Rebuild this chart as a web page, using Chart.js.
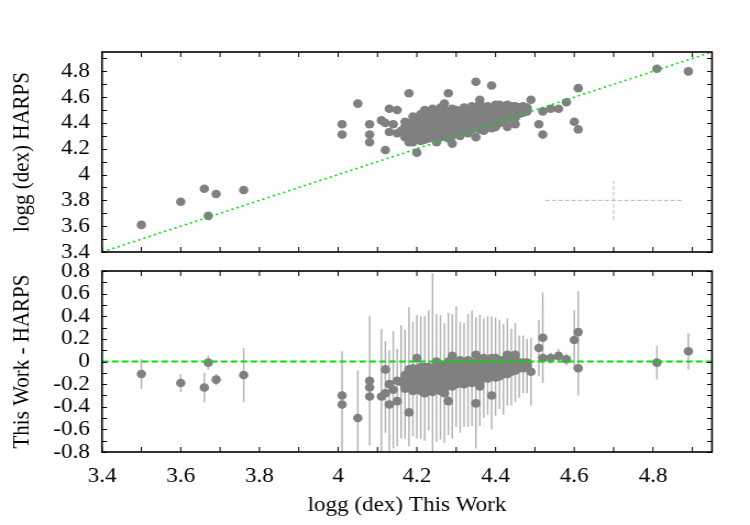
<!DOCTYPE html>
<html>
<head>
<meta charset="utf-8">
<script src="https://cdn.jsdelivr.net/npm/chart.js@4.4.0/dist/chart.umd.min.js"></script>
<style>
  body { margin: 0; background: #fff; }
  #wrap { position: relative; width: 750px; height: 525px; overflow: hidden; }
  /* the original figure is stretched sideways, so draw narrower and widen */
  canvas { position: absolute; left: 0; transform-origin: 0 0; transform: scaleX(1.0997); }
  #topChart { top: 0; }
  #botChart { top: 200px; }
</style>
</head>
<body>
<div id="wrap">
  <canvas id="topChart" width="682" height="300"></canvas>
  <canvas id="botChart" width="682" height="325"></canvas>
</div>
<script>
// isolated stars: logg from this work, logg from HARPS, error on the difference
const sparseThis  = [3.50, 3.60, 3.66, 3.67, 3.69, 3.76, 4.01, 4.01, 4.05, 4.08, 4.08, 4.08,
                     4.11, 4.12, 4.12, 4.13, 4.13, 4.14, 4.15, 4.15, 4.16, 4.17, 4.18, 4.18,
                     4.18, 4.19, 4.20, 4.21, 4.22, 4.25, 4.28, 4.29, 4.35, 4.39, 4.36, 4.49,
                     4.61, 4.58, 4.56, 4.54, 4.52, 4.51, 4.52, 4.60, 4.61, 4.81, 4.89];
const sparseHarps = [3.61, 3.79, 3.89, 3.68, 3.85, 3.88, 4.39, 4.31, 4.55, 4.39, 4.31, 4.25,
                     4.42, 4.40, 4.19, 4.51, 4.33, 4.39, 4.50, 4.32, 4.34, 4.41, 4.63, 4.40,
                     4.25, 4.25, 4.17, 4.26, 4.27, 4.25, 4.63, 4.24, 4.72, 4.69, 4.58, 4.58,
                     4.67, 4.56, 4.51, 4.51, 4.49, 4.39, 4.31, 4.41, 4.35, 4.82, 4.80];
const sparseErr   = [0.13, 0.08, 0.13, 0.06, 0.05, 0.24, 0.47, 0.39, 0.42, 0.30, 0.25, 0.57,
                     0.60, 0.35, 0.25, 0.45, 0.30, 0.52, 0.40, 0.28, 0.50, 0.35, 0.30, 0.40,
                     0.55, 0.33, 0.38, 0.45, 0.30, 0.42, 0.28, 0.36, 0.40, 0.30, 0.35, 0.30,
                     0.24, 0.05, 0.06, 0.05, 0.12, 0.25, 0.40, 0.26, 0.36, 0.15, 0.16];

// main clump, one row per logg (this work) value
const clusterX = [4.17, 4.18, 4.19, 4.20, 4.21, 4.22, 4.23, 4.24, 4.25, 4.26, 4.27, 4.28,
                  4.29, 4.30, 4.31, 4.32, 4.33, 4.34, 4.35, 4.36, 4.37, 4.38, 4.39, 4.40,
                  4.41, 4.42, 4.43, 4.44, 4.45, 4.46, 4.47, 4.48];
const clusterHarps = [
  [4.33, 4.29, 4.37],
  [4.33, 4.36, 4.28],
  [4.41, 4.30, 4.34, 4.38, 4.45],
  [4.36, 4.27, 4.32, 4.40, 4.44],
  [4.34, 4.29, 4.38, 4.47, 4.42],
  [4.33, 4.37, 4.45, 4.50, 4.30, 4.41],
  [4.35, 4.40, 4.44, 4.28, 4.49, 4.31],
  [4.36, 4.32, 4.42, 4.46, 4.51, 4.39],
  [4.30, 4.38, 4.44, 4.48, 4.34, 4.41],
  [4.33, 4.37, 4.40, 4.45, 4.52, 4.29, 4.43],
  [4.35, 4.39, 4.42, 4.47, 4.55, 4.31, 4.50],
  [4.36, 4.40, 4.33, 4.44, 4.49, 4.38, 4.28],
  [4.37, 4.41, 4.45, 4.34, 4.51, 4.30],
  [4.36, 4.39, 4.43, 4.47, 4.33, 4.50, 4.41],
  [4.38, 4.42, 4.35, 4.46, 4.40, 4.30],
  [4.40, 4.44, 4.37, 4.48, 4.52, 4.34],
  [4.39, 4.43, 4.36, 4.46, 4.41, 4.32, 4.50],
  [4.41, 4.45, 4.38, 4.48, 4.35, 4.43, 4.53],
  [4.40, 4.44, 4.37, 4.47, 4.29, 4.50, 4.42],
  [4.42, 4.46, 4.39, 4.49, 4.35, 4.55, 4.44],
  [4.41, 4.45, 4.38, 4.48, 4.51, 4.43, 4.34],
  [4.43, 4.47, 4.40, 4.50, 4.37, 4.53, 4.45],
  [4.42, 4.46, 4.49, 4.39, 4.52, 4.36, 4.44],
  [4.44, 4.48, 4.41, 4.51, 4.54, 4.37, 4.46],
  [4.45, 4.49, 4.42, 4.52, 4.40, 4.54],
  [4.46, 4.50, 4.43, 4.53, 4.48, 4.41],
  [4.47, 4.51, 4.44, 4.54, 4.37, 4.49],
  [4.46, 4.50, 4.48, 4.53, 4.43, 4.52],
  [4.47, 4.51, 4.49, 4.39, 4.53, 4.44],
  [4.49, 4.52, 4.47],
  [4.50, 4.48, 4.53],
  [4.51, 4.49, 4.52]
];
const clusterErr = [
  [0.42, 0.30, 0.48],
  [0.35, 0.28, 0.44],
  [0.30, 0.46, 0.38, 0.25, 0.40],
  [0.52, 0.34, 0.28, 0.45, 0.30],
  [0.36, 0.48, 0.30, 0.42, 0.26],
  [0.40, 0.55, 0.32, 0.38, 0.28, 0.46],
  [0.30, 0.44, 0.36, 0.50, 0.27, 0.40],
  [0.90, 0.34, 0.46, 0.30, 0.40, 0.52],
  [0.35, 0.42, 0.28, 0.48, 0.32, 0.38],
  [0.44, 0.30, 0.55, 0.36, 0.26, 0.40, 0.34],
  [0.38, 0.46, 0.30, 0.52, 0.28, 0.36, 0.42],
  [0.40, 0.34, 0.48, 0.30, 0.44, 0.26, 0.36],
  [0.50, 0.32, 0.40, 0.28, 0.46, 0.35],
  [0.30, 0.45, 0.36, 0.28, 0.52, 0.38, 0.32],
  [0.42, 0.30, 0.36, 0.48, 0.26, 0.34],
  [0.38, 0.46, 0.30, 0.40, 0.28, 0.35],
  [0.44, 0.32, 0.40, 0.28, 0.50, 0.30, 0.36],
  [0.36, 0.42, 0.28, 0.34, 0.46, 0.30, 0.38],
  [0.32, 0.48, 0.36, 0.30, 0.26, 0.42, 0.34],
  [0.40, 0.30, 0.44, 0.34, 0.28, 0.38, 0.32],
  [0.34, 0.40, 0.28, 0.36, 0.30, 0.44, 0.26],
  [0.30, 0.36, 0.42, 0.28, 0.34, 0.32, 0.38],
  [0.36, 0.28, 0.34, 0.40, 0.26, 0.30, 0.32],
  [0.32, 0.40, 0.28, 0.34, 0.30, 0.36, 0.42],
  [0.30, 0.34, 0.38, 0.26, 0.32, 0.28],
  [0.34, 0.28, 0.30, 0.36, 0.26, 0.32],
  [0.30, 0.26, 0.34, 0.28, 0.32, 0.30],
  [0.28, 0.32, 0.26, 0.30, 0.28, 0.24],
  [0.26, 0.30, 0.24, 0.28, 0.26, 0.30],
  [0.22, 0.26, 0.24],
  [0.20, 0.24, 0.22],
  [0.22, 0.18, 0.24]
];

// typical error cross in the upper panel
const typicalAt  = [4.70, 3.80];
const typicalErr = [0.174, 0.15];
// axis range and tick labels
const axisRange   = [3.4, 4.95];
const resRange    = [-0.8, 0.8];
const xTickLabels = ['3.4', '3.6', '3.8', '4', '4.2', '4.4', '4.6', '4.8'];
const yTickLabels = ['3.4', '3.6', '3.8', '4', '4.2', '4.4', '4.6', '4.8'];
const resTickLabels = ['-0.8', '-0.6', '-0.4', '-0.2', '0', '0.2', '0.4', '0.6', '0.8'];

// flatten everything
const loggThis = [], loggHarps = [], errDiff = [];
sparseThis.forEach((x, i) => {
  loggThis.push(x); loggHarps.push(sparseHarps[i]); errDiff.push(sparseErr[i]);
});
clusterX.forEach((x, i) => {
  clusterHarps[i].forEach((y, j) => {
    loggThis.push(x); loggHarps.push(y); errDiff.push(clusterErr[i][j]);
  });
});
const resid = loggThis.map((x, i) => Math.round((x - loggHarps[i]) * 1000) / 1000);

const SX = 750 / 682;   // horizontal stretch applied by css
Chart.defaults.font.family = "'Liberation Serif', serif";
Chart.defaults.font.size = 21;
Chart.defaults.color = '#000';
const GREEN = 'rgb(0, 225, 0)';

function labelPicker(labels) {
  return function(v) {
    const s = labels.find(l => Math.abs(parseFloat(l) - v) < 1e-6);
    return s === undefined ? '' : s;
  };
}

// gnuplot-like frame with inward ticks on all sides
const frameTicks = {
  id: 'frameTicks',
  afterDraw(chart) {
    const { ctx, chartArea: a, scales } = chart;
    const len = 5;
    ctx.save();
    ctx.strokeStyle = '#000';
    ctx.lineWidth = 1;
    ctx.beginPath();
    scales.x.ticks.forEach(t => {
      const p = scales.x.getPixelForValue(t.value);
      ctx.moveTo(p, a.bottom); ctx.lineTo(p, a.bottom - len);
      ctx.moveTo(p, a.top); ctx.lineTo(p, a.top + len);
    });
    scales.y.ticks.forEach(t => {
      const p = Math.round(scales.y.getPixelForValue(t.value)) + 0.5;
      ctx.moveTo(a.left, p); ctx.lineTo(a.left + len / SX, p);
      ctx.moveTo(a.right, p); ctx.lineTo(a.right - len / SX, p);
    });
    ctx.stroke();
    ctx.lineWidth = 1.6;
    ctx.strokeRect(a.left, a.top, a.right - a.left, a.bottom - a.top);
    ctx.restore();
  }
};

function xScale(showLabels, height) {
  return {
    type: 'linear', min: axisRange[0], max: axisRange[1],
    grid: { display: false, drawTicks: false },
    border: { display: false },
    ticks: {
      display: showLabels, stepSize: 0.1, includeBounds: false, autoSkip: false,
      maxRotation: 0, padding: 12,
      callback: labelPicker(xTickLabels)
    },
    title: {
      display: showLabels, text: 'logg (dex) This Work',
      padding: { top: 0, bottom: 7 }
    },
    afterFit(s) { s.height = height; }
  };
}

function yScale(range, labels, title) {
  return {
    type: 'linear', min: range[0], max: range[1],
    grid: { display: false, drawTicks: false },
    border: { display: false },
    ticks: {
      stepSize: 0.1, includeBounds: false, autoSkip: false, padding: 11,
      callback: labelPicker(labels)
    },
    title: { display: true, text: title, padding: { top: 7.5, bottom: 0 } },
    afterFit(s) { s.width = 102 / SX; }
  };
}

// upper panel: HARPS vs this work
new Chart(document.getElementById('topChart'), {
  type: 'scatter',
  data: {
    datasets: [
      {
        label: 'one-to-one',
        data: axisRange.map(v => ({ x: v, y: v })),
        showLine: true, borderColor: GREEN, borderWidth: 1.6, borderDash: [2, 3],
        pointRadius: 0, order: 0
      },
      {
        label: 'stars',
        data: loggThis.map((x, i) => ({ x: x, y: loggHarps[i] })),
        backgroundColor: '#808080', borderWidth: 0, pointRadius: 4.3, order: 1
      },
      {
        label: 'typical error',
        data: [
          { x: typicalAt[0] - typicalErr[0], y: typicalAt[1] },
          { x: typicalAt[0] + typicalErr[0], y: typicalAt[1] },
          { x: typicalAt[0], y: null },
          { x: typicalAt[0], y: typicalAt[1] - typicalErr[1] },
          { x: typicalAt[0], y: typicalAt[1] + typicalErr[1] }
        ],
        showLine: true, spanGaps: false, borderColor: '#b8b8b8', borderWidth: 1,
        borderDash: [4, 2], pointRadius: 0, order: 2
      }
    ]
  },
  options: {
    responsive: false,
    animation: false,
    layout: { padding: { top: 52, right: 38 / SX, left: 0, bottom: 38 } },
    scales: {
      x: xScale(false, 10),
      y: yScale(axisRange, yTickLabels, 'logg (dex) HARPS')
    },
    plugins: { legend: { display: false }, tooltip: { enabled: false } }
  },
  plugins: [frameTicks]
});

// lower panel: residuals with error bars
const barData = [];
loggThis.forEach((x, i) => {
  barData.push({ x: x, y: resid[i] - errDiff[i] });
  barData.push({ x: x, y: resid[i] + errDiff[i] });
  barData.push({ x: x, y: null });
});

new Chart(document.getElementById('botChart'), {
  type: 'scatter',
  data: {
    datasets: [
      {
        label: 'zero',
        data: axisRange.map(v => ({ x: v, y: 0 })),
        showLine: true, borderColor: GREEN, borderWidth: 2, borderDash: [6, 3],
        pointRadius: 0, order: 0
      },
      {
        label: 'residuals',
        data: loggThis.map((x, i) => ({ x: x, y: resid[i] })),
        backgroundColor: '#808080', borderWidth: 0, pointRadius: 4.3, order: 1
      },
      {
        label: 'error bars',
        data: barData,
        showLine: true, spanGaps: false, borderColor: '#b0b0b0', borderWidth: 1.4,
        pointRadius: 0, order: 2
      }
    ]
  },
  options: {
    responsive: false,
    animation: false,
    layout: { padding: { top: 71, right: 38 / SX, left: 0, bottom: 0 } },
    scales: {
      x: xScale(true, 73),
      y: yScale(resRange, resTickLabels, 'This Work - HARPS')
    },
    plugins: { legend: { display: false }, tooltip: { enabled: false } }
  },
  plugins: [frameTicks]
});
</script>
</body>
</html>
